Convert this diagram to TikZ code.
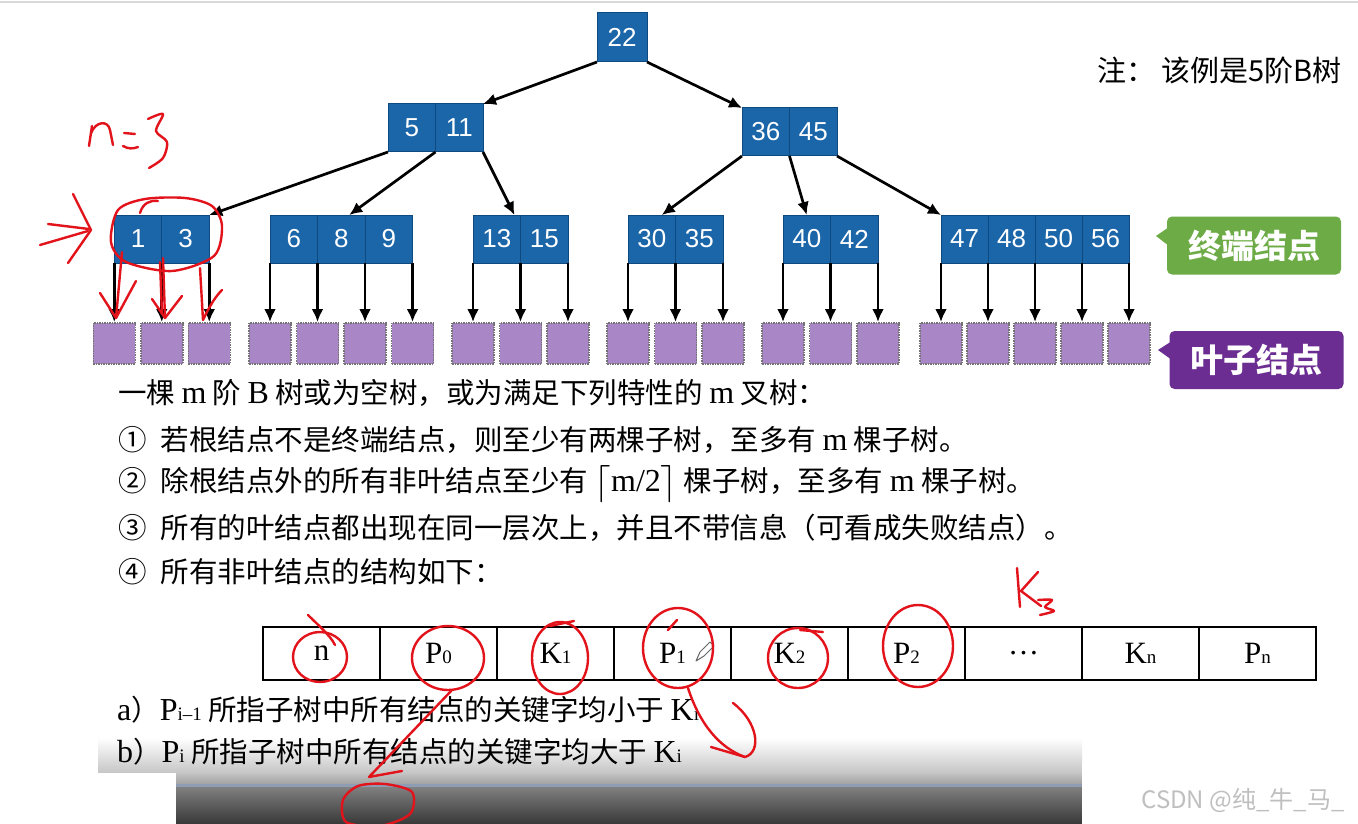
\documentclass[tikz,border=0pt]{standalone}
\usepackage{fontspec}
\setmainfont{Liberation Serif}
\newfontfamily\cjk{Noto Sans CJK SC}
\newfontfamily\hel{Liberation Sans}
\usetikzlibrary{positioning, arrows.meta, calc}
\definecolor{keyblue}{HTML}{1B65A9}
\definecolor{keyedge}{HTML}{0E4A80}
\definecolor{leafpurple}{HTML}{A987C6}
\definecolor{termgreen}{HTML}{6CAB45}
\definecolor{tagpurple}{HTML}{6B2D91}
\definecolor{inkred}{HTML}{E2131B}
\definecolor{barblue}{HTML}{8E9DB4}
\tikzset{
    bkey/.style={draw=keyedge, line width=1pt, fill=keyblue, text=white, minimum width=47.5pt, minimum height=48pt, inner sep=0pt, outer sep=0pt, font=\hel\fontsize{26pt}{26pt}\selectfont},
    leaf/.style={draw=black!55, densely dotted, line width=1.5pt, fill=leafpurple, minimum width=42pt, minimum height=41pt, inner sep=0pt, anchor=north},
    ptr/.style={-{Latex[length=13pt, width=12pt]}, line width=2.7pt},
    tag/.style={rounded corners=5pt, text=white, minimum width=174pt, minimum height=58pt, font=\cjk\bfseries\fontsize{33pt}{33pt}\selectfont},
    txtline/.style={anchor=west, inner sep=0pt, font=\cjk\fontsize{28.5pt}{28.5pt}\selectfont},
    slot/.style={draw, line width=1.8pt, minimum width=117pt, minimum height=53pt, inner sep=0pt, outer sep=0pt, font=\fontsize{31pt}{31pt}\selectfont},
    ink/.style={draw=inkred, line width=2.4pt, line cap=round, line join=round},
}
\newcommand{\lat}[1]{{\rmfamily\fontsize{32pt}{32pt}\selectfont #1}}
\newcommand{\sbs}[1]{{\fontsize{19pt}{19pt}\selectfont #1}}

\begin{document}
\begin{tikzpicture}[x=1pt, y=-1pt]
    \useasboundingbox (0,0) rectangle (1358,824);
    \fill[white] (0,0) rectangle (1358,824);
    \draw[black!15, line width=2pt] (0,2) -- (1358,2);

    % tree
    \node[bkey, minimum width=50pt, minimum height=49pt] (r) at (622,37.5) {22};
    \node[bkey] (b1) at (411.75,128) {5};
    \node[bkey, right=0pt of b1] (b2) {11};
    \node[bkey] (c1) at (765.75,132) {36};
    \node[bkey, right=0pt of c1] (c2) {45};

    \node[bkey] (t1) at (138,239) {1};
    \node[bkey, right=0pt of t1] (t2) {3};
    \node[bkey] (s1) at (293.75,239) {6};
    \node[bkey, right=0pt of s1] (s2) {8};
    \node[bkey, right=0pt of s2] (s3) {9};
    \node[bkey] (m1) at (496.75,239) {13};
    \node[bkey, right=0pt of m1] (m2) {15};
    \node[bkey] (f1) at (651.75,239) {30};
    \node[bkey, right=0pt of f1] (f2) {35};
    \node[bkey] (u1) at (806.75,239) {40};
    \node[bkey, right=0pt of u1] (u2) {42};
    \node[bkey, minimum width=47pt] (v1) at (964.5,239) {47};
    \node[bkey, minimum width=47pt, right=0pt of v1] (v2) {48};
    \node[bkey, minimum width=47pt, right=0pt of v2] (v3) {50};
    \node[bkey, minimum width=47pt, right=0pt of v3] (v4) {56};

    \draw[ptr] (r.south west) -- (b2.north east);
    \draw[ptr] (r.south east) -- (c1.north west);
    \draw[ptr] (b1.south west) -- (t2.north east);
    \draw[ptr] (b1.south east) -- ([xshift=8pt]s2.north);
    \draw[ptr] (b2.south east) -- ([xshift=-6pt]m1.north east);
    \draw[ptr] (c1.south west) -- ([xshift=10pt]f1.north);
    \draw[ptr] (c1.south east) -- (u1.north);
    \draw[ptr] (c2.south east) -- (v1.north west);

    % leaves
    \foreach \p/\n in {t1.south west/1, t1.south east/2, t2.south east/3,
                       s1.south west/4, s1.south east/5, s2.south east/6, s3.south east/7,
                       m1.south west/8, m1.south east/9, m2.south east/10,
                       f1.south west/11, f1.south east/12, f2.south east/13,
                       u1.south west/14, u1.south east/15, u2.south east/16,
                       v1.south west/17, v1.south east/18, v2.south east/19, v3.south east/20, v4.south east/21} {
        \node[leaf, yshift=-59pt] (lf\n) at (\p) {};
        \draw[ptr] (\p) -- (lf\n);
    }

    % labels on the right
    \node[anchor=west, inner sep=0pt, font=\cjk\fontsize{29pt}{29pt}\selectfont] (note) at (1097,70) {注：\hspace{6pt}该例是5阶B树};
    \node[tag, fill=termgreen] (term) at (1254,245.5) {终端结点};
    \fill[termgreen] (1169,227) -- (1156,236) -- (1169,246) -- cycle;
    \node[tag, fill=tagpurple] (leafy) at (1256.5,360) {叶子结点};
    \fill[tagpurple] (1172,341) -- (1158,350) -- (1172,360) -- cycle;

    % definition text
    \node[txtline] (l0) at (118,393) {一棵 \lat{m} 阶 \lat{B} 树或为空树，或为满足下列特性的 \lat{m} 叉树：};
    \node[txtline] (l1) at (118,440) {①\hspace{14pt}若根结点不是终端结点，则至少有两棵子树，至多有 \lat{m} 棵子树。};
    \node[txtline] (l2) at (118,484) {②\hspace{14pt}除根结点外的所有非叶结点至少有 \raisebox{-2pt}{\scalebox{1.5}{$\lceil$}}\lat{m/2}\raisebox{-2pt}{\scalebox{1.5}{$\rceil$}} 棵子树，至多有 \lat{m} 棵子树。};
    \node[txtline] (l3) at (118,528) {③\hspace{14pt}所有的叶结点都出现在同一层次上，并且不带信息（可看成失败结点）。};
    \node[txtline] (l4) at (118,572) {④\hspace{14pt}所有非叶结点的结构如下：};

    % node layout
    \node[slot] (q0) at (321.5,653.5) {n};
    \node[slot, right=0pt of q0] (q1) {P\sbs{0}};
    \node[slot, right=0pt of q1] (q2) {K\sbs{1}};
    \node[slot, right=0pt of q2] (q3) {P\sbs{1}};
    \node[slot, right=0pt of q3] (q4) {K\sbs{2}};
    \node[slot, right=0pt of q4] (q5) {P\sbs{2}};
    \node[slot, right=0pt of q5] (q6) {\ldots};
    \node[slot, right=0pt of q6] (q7) {K\sbs{n}};
    \node[slot, right=0pt of q7] (q8) {P\sbs{n}};

    % bottom bands
    \shade[top color=white, bottom color=black!22] (98,738) rectangle (1082,772);
    \shade[top color=black!22, bottom color=black!38] (176,772) rectangle (1082,785);
    \fill[barblue] (176,784) rectangle (1082,787);
    \shade[top color=black!50, bottom color=black!78] (176,787) rectangle (1082,824);
    \fill[white] (1082,764) rectangle (1358,824);
    \node[inner sep=0pt, text=black!25, font=\cjk\fontsize{24pt}{24pt}\selectfont] (mark) at (1243,800) {CSDN @纯\_牛\_马\_};

    \node[txtline] (ta) at (117,710) {\lat{a}）\lat{P\sbs{i–1}} 所指子树中所有结点的关键字均小于 \lat{K\sbs{i}}};
    \node[txtline] (tb) at (117,752) {\lat{b}）\lat{P\sbs{i}} 所指子树中所有结点的关键字均大于 \lat{K\sbs{i}}};

    % pencil
    \draw[black!60, line width=1pt, line join=round] (696,661) -- (700,652) -- (710,642) -- (714,646) -- (704,656) -- cycle;

    % red marks
    \draw[ink] (89,146) -- (92,126);
    \draw[ink] (91,133) .. controls (96,121) and (108,120) .. (110,130) -- (113,145);
    \draw[ink] (124,133) -- (135,134);
    \draw[ink] (123,146) .. controls (128,149) and (133,149) .. (138,147);
    \draw[ink] plot[smooth] coordinates {(148,119) (163,114) (156,131) (167,142) (163,158) (149,168)};
    \draw[ink] (48,224) -- (89,229);
    \draw[ink] (40,245) -- (88,231);
    \draw[ink] (73,194) -- (91,230) -- (68,263);
    \draw[ink] plot[smooth cycle] coordinates {(111,242) (118,210) (145,199) (185,198) (212,206) (222,226) (214,256) (172,271) (126,262)};
    \draw[ink] (140,213) .. controls (143,203) and (150,200) .. (158,201);
    \draw[ink] (122,252) -- (116,318);
    \draw[ink] (100,293) -- (116,318) -- (136,281);
    \draw[ink] (163,258) -- (165,318);
    \draw[ink] (160,262) -- (162,314);
    \draw[ink] (152,299) -- (165,318) -- (182,296);
    \draw[ink] (200,268) -- (203,320) .. controls (210,305) and (216,296) .. (222,290);

    \draw[ink] (320,657) ellipse [x radius=27, y radius=25];
    \draw[ink] (308,615) .. controls (318,625) and (330,635) .. (335,645);
    \draw[ink] (448,658) ellipse [x radius=36, y radius=32];
    \draw[ink] (452,690) -- (369,777) -- (402,771);
    \draw[ink] plot[smooth cycle] coordinates {(343,800) (358,786) (385,784) (412,792) (410,814) (380,826) (346,822)};
    \draw[ink] (560,658) ellipse [x radius=28, y radius=36];
    \draw[ink] (550,626) -- (574,621);
    \draw[ink] (678,648) ellipse [x radius=35, y radius=40];
    \draw[ink] (668,630) -- (677,620);
    \draw[ink] (688,688) .. controls (700,725) and (720,748) .. (745,757);
    \draw[ink] (733,703) .. controls (758,722) and (762,752) .. (745,757) -- (711,747);
    \draw[ink] (798,658) ellipse [x radius=30, y radius=30];
    \draw[ink] (800,630) -- (823,632);
    \draw[ink] (918,646) ellipse [x radius=35, y radius=41];
    \draw[ink] (1017,568) -- (1020,607);
    \draw[ink] (1038,572) -- (1021,591) -- (1041,606);
    \draw[ink] plot[smooth] coordinates {(1038,600) (1052,600) (1045,607) (1054,611) (1040,615)};
\end{tikzpicture}
\end{document}
